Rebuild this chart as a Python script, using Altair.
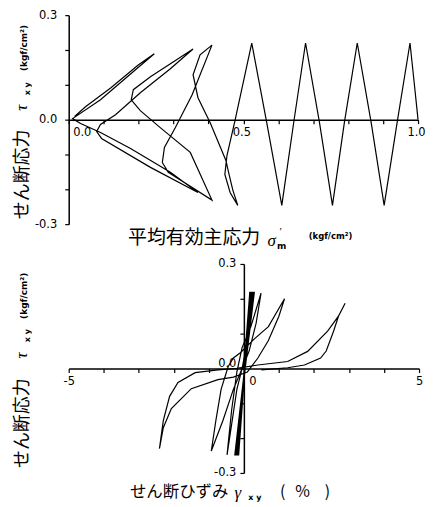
import altair as alt
import pandas as pd

# ---------------- data ----------------
# Top panel: effective stress path (sigma'_m, tau_xy)
path_sigma = [1.000, 0.989, 0.977, 0.940, 0.903, 0.866, 0.826, 0.789, 0.755, 0.718, 0.678, 0.644,
              0.610, 0.567, 0.524, 0.476, 0.453, 0.447, 0.462, 0.484, 0.470, 0.459, 0.450,
              0.405, 0.370, 0.356, 0.376, 0.410, 0.353, 0.305, 0.274, 0.268, 0.285, 0.410,
              0.348, 0.262, 0.205, 0.179, 0.185, 0.234, 0.356, 0.291, 0.205, 0.134, 0.091,
              0.080, 0.094, 0.234, 0.370, 0.291, 0.177, 0.091, 0.034, 0.011, 0.091, 0.177,
              0.245, 0.199, 0.120, 0.048, 0.017]
path_tau = [0.000, 0.106, 0.220, -0.009, -0.246, -0.009, 0.220, -0.009, -0.246, -0.009, 0.220, -0.009,
            -0.246, -0.009, 0.220, -0.003, -0.103, -0.157, -0.209, -0.246, -0.203, -0.157, -0.117,
            -0.009, 0.063, 0.129, 0.186, 0.214, 0.071, -0.023, -0.080, -0.123, -0.151, -0.231,
            -0.094, -0.023, 0.026, 0.057, 0.086, 0.123, 0.203, 0.146, 0.077, 0.014, -0.014,
            -0.034, -0.054, -0.137, -0.209, -0.151, -0.083, -0.037, -0.011, 0.003, 0.057, 0.131,
            0.189, 0.157, 0.091, 0.037, 0.009]

# Bottom panel: stress-strain loops (gamma_xy %, tau_xy)
loop_gamma = [0.00, 0.17, -0.15, 0.19, -0.18, 0.21, -0.20, 0.24, -0.23, 0.27, -0.26, 0.30,
              0.10, -0.05, -0.20, -0.48,
              -0.35, -0.20, -0.05, 0.20, 0.49,
              0.35, 0.15, -0.05, -0.30, -0.60, -0.93,
              -0.80, -0.65, -0.45, -0.30, -0.10, 0.30, 0.70, 1.16,
              1.00, 0.70, 0.40, 0.10, -0.30, -0.74, -1.50, -2.07, -2.30, -2.41,
              -2.30, -2.12, -1.88, -1.39, -0.74, -0.20, 0.40, 1.25, 1.82, 2.39, 2.70, 2.89,
              2.70, 2.56, 2.35, 2.19, 1.73, 1.25, 0.50]
loop_tau = [0.000, 0.220, -0.250, 0.220, -0.250, 0.220, -0.250, 0.220, -0.250, 0.220, -0.250, 0.220,
            0.080, 0.000, -0.060, -0.248,
            -0.120, -0.010, 0.060, 0.120, 0.216,
            0.130, 0.050, 0.000, -0.060, -0.150, -0.237,
            -0.150, -0.060, 0.005, 0.030, 0.045, 0.085, 0.120, 0.200,
            0.150, 0.080, 0.030, -0.010, -0.025, -0.032, -0.058, -0.115, -0.170, -0.230,
            -0.150, -0.080, -0.040, -0.012, -0.004, 0.000, 0.010, 0.020, 0.049, 0.107, 0.150, 0.187,
            0.150, 0.107, 0.050, 0.030, 0.010, 0.002, -0.004]

sig_ticks = [round(i * 0.1, 1) for i in range(11)]
tau_ticks = [round(-0.3 + i * 0.1, 1) for i in range(7)]
gam_ticks = list(range(-5, 6))

# ---------------- style ----------------
JP = "Noto Sans CJK JP"
NUM = "DejaVu Sans"
GR = "Liberation Serif"
W1, W2, H = 351, 352, 210

top_df = pd.DataFrame({"s": path_sigma, "t": path_tau, "i": range(len(path_sigma))})
bot_df = pd.DataFrame({"g": loop_gamma, "t": loop_tau, "i": range(len(loop_gamma))})

one = pd.DataFrame({"a": [0]})


def txt(s, x, y, size, angle=0, font=JP, style="normal", weight="normal", align="center"):
    return alt.Chart(one).mark_text(
        text=s, fontSize=size, angle=angle, font=font, fontStyle=style,
        fontWeight=weight, align=align, baseline="middle", color="black"
    ).encode(x=alt.value(x), y=alt.value(y))


fmt = "replace(format(datum.value, '.1f'), '\u2212', '-')"

axis_common = dict(
    title=None, grid=False, domainColor="black", domainWidth=1.5, tickColor="black",
    tickWidth=1.2, tickSize=4, labelColor="black", labelFont=NUM, labelFontSize=11.5,
)

# ---------------- top panel ----------------
top_x = alt.X("s:Q", scale=alt.Scale(domain=[0, 1]),
              axis=alt.Axis(values=sig_ticks, offset=-H / 2,
                            labelExpr="(abs(datum.value) < 1e-6 || abs(datum.value - 0.5) < 1e-6 || abs(datum.value - 1) < 1e-6) ? " + fmt + " : ''",
                            labelAlign={"condition": {"test": "abs(datum.value) < 1e-6", "value": "left"}, "value": "center"},
                            labelOffset={"condition": {"test": "abs(datum.value) < 1e-6", "value": 4}, "value": -2},
                            labelPadding=3, **axis_common))
top_y = alt.Y("t:Q", scale=alt.Scale(domain=[-0.3, 0.3]),
              axis=alt.Axis(values=tau_ticks,
                            labelExpr="(abs(datum.value) < 1e-6 || abs(abs(datum.value) - 0.3) < 1e-6) ? " + fmt + " : ''",
                            labelPadding=8, **axis_common))

top_line = alt.Chart(top_df).mark_line(color="black", strokeWidth=1.2).encode(
    x=top_x, y=top_y, order="i:Q")

top = alt.layer(
    top_line,
    txt("せん断応力", -46, 160, 18, angle=270),
    txt("τ", -47, 93, 17, angle=270, font=GR, style="italic"),
    txt("x y", -41, 74, 8, angle=270, font=NUM, weight="bold"),
    txt("(kgf/cm²)", -45, 33, 9, angle=270, font=NUM, weight="bold"),
    txt("平均有効主応力", 126, 224, 19),
    txt("σ", 204, 227, 17, font=GR, style="italic"),
    txt("′", 213, 218, 11, font=GR),
    txt("m", 214, 232, 9, font=NUM, weight="bold"),
    txt("(kgf/cm²)", 263, 222, 8.5, font=NUM, weight="bold"),
).properties(width=W1, height=H)

# ---------------- bottom panel ----------------
bot_x = alt.X("g:Q", scale=alt.Scale(domain=[-5, 5]),
              axis=alt.Axis(values=gam_ticks, offset=-H / 2,
                            labelExpr="(datum.value % 5 == 0) ? replace(format(datum.value, 'd'), '\u2212', '-') : ''",
                            labelAlign={"condition": {"test": "datum.value == 0", "value": "left"}, "value": "center"},
                            labelOffset={"condition": {"test": "datum.value == 0", "value": 5}, "value": 0},
                            labelPadding=3, **axis_common))
bot_y = alt.Y("t:Q", scale=alt.Scale(domain=[-0.3, 0.3]),
              axis=alt.Axis(values=tau_ticks, offset=-W2 / 2,
                            labelExpr="(abs(datum.value) < 1e-6 || abs(abs(datum.value) - 0.3) < 1e-6) ? " + fmt + " : ''",
                            labelOffset={"condition": {"test": "abs(datum.value) < 1e-6", "value": -5}, "value": 0},
                            labelPadding=4, **axis_common))

bot_line = alt.Chart(bot_df).mark_line(color="black", strokeWidth=1.2).encode(
    x=bot_x, y=bot_y, order="i:Q")

bottom = alt.layer(
    bot_line,
    txt("せん断応力", -46, 160, 18, angle=270),
    txt("τ", -47, 92, 17, angle=270, font=GR, style="italic"),
    txt("x y", -41, 72, 8, angle=270, font=NUM, weight="bold"),
    txt("(kgf/cm²)", -45, 32, 9, angle=270, font=NUM, weight="bold"),
    txt("せん断ひずみ", 111, 229, 16.5),
    txt("γ", 170, 230, 17, font=GR, style="italic"),
    txt("x y", 187, 235, 8, font=NUM, weight="bold"),
    txt("(", 215, 229, 16, font=JP),
    txt("%", 235, 229, 16, font=JP),
    txt(")", 260, 229, 16, font=JP),
).properties(width=W2, height=H)

chart = alt.vconcat(top, bottom, spacing=7).properties(
    padding={"left": 5, "top": 0, "right": 0, "bottom": 0}, background="white"
).configure_view(stroke=None)

chart.save("out.html", embed_options={"renderer": "svg", "actions": False})
